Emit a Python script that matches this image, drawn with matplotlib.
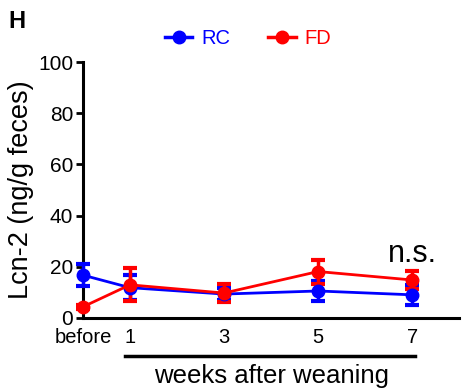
import numpy as np
import matplotlib.pyplot as plt
from matplotlib.lines import Line2D

plt.rcParams['font.family'] = ['Liberation Sans', 'DejaVu Sans']

# data
x_labels = ['before', '1', '3', '5', '7']
weeks = [0, 1, 3, 5, 7]
rc_mean = [16.7, 11.8, 9.3, 10.5, 9.0]
rc_sem = [4.2, 5.0, 2.5, 4.0, 3.8]
fd_mean = [4.3, 12.9, 9.7, 18.1, 14.8]
fd_sem = [0.8, 6.5, 3.7, 4.7, 3.7]

fig = plt.figure(figsize=(4.71, 3.90), dpi=100)
ax = fig.add_axes([0.176, 0.185, 0.799, 0.656])

for m, s, c in [(rc_mean, rc_sem, '#0000ff'), (fd_mean, fd_sem, '#ff0000')]:
    ax.errorbar(weeks, m, yerr=s, color=c, lw=2, marker='o', ms=9,
                capsize=5, capthick=3, elinewidth=2.5, clip_on=False, zorder=3)

ax.set_xlim(0, 8)
ax.set_ylim(0, 100)
ax.set_yticks([0, 20, 40, 60, 80, 100])
ax.set_xticks(weeks)
ax.set_xticklabels(x_labels)
ax.tick_params(axis='y', labelsize=15, width=2, length=5, pad=2)
ax.tick_params(axis='x', length=0, labelsize=14.5, pad=7)
for sp in ['top', 'right']:
    ax.spines[sp].set_visible(False)
for sp in ['left', 'bottom']:
    ax.spines[sp].set_linewidth(2.2)
ax.set_ylabel('Lcn-2 (ng/g feces)', fontsize=19.5, labelpad=3)

# bracket under week labels
ax.plot([0.9, 7.05], [-15, -15], color='black', lw=2.5, clip_on=False)
ax.text(4, -18, 'weeks after weaning', ha='center', va='top', fontsize=18.5)

ax.text(7.0, 22, 'n.s.', ha='center', va='baseline', fontsize=22)

handles = [Line2D([], [], color='#0000ff', marker='o', ms=9, lw=2.5),
           Line2D([], [], color='#ff0000', marker='o', ms=9, lw=2.5)]
leg = fig.legend(handles, ['RC', 'FD'], loc='center', bbox_to_anchor=(0.527, 0.902),
                 ncol=2, frameon=False, fontsize=14.5, handlelength=1.35,
                 columnspacing=1.9, handletextpad=0.45)
for t, c in zip(leg.get_texts(), ['#0000ff', '#ff0000']):
    t.set_color(c)

fig.text(0.017, 0.945, 'H', fontsize=17, fontweight='bold', va='center')

fig.savefig('out.png', dpi=100)
